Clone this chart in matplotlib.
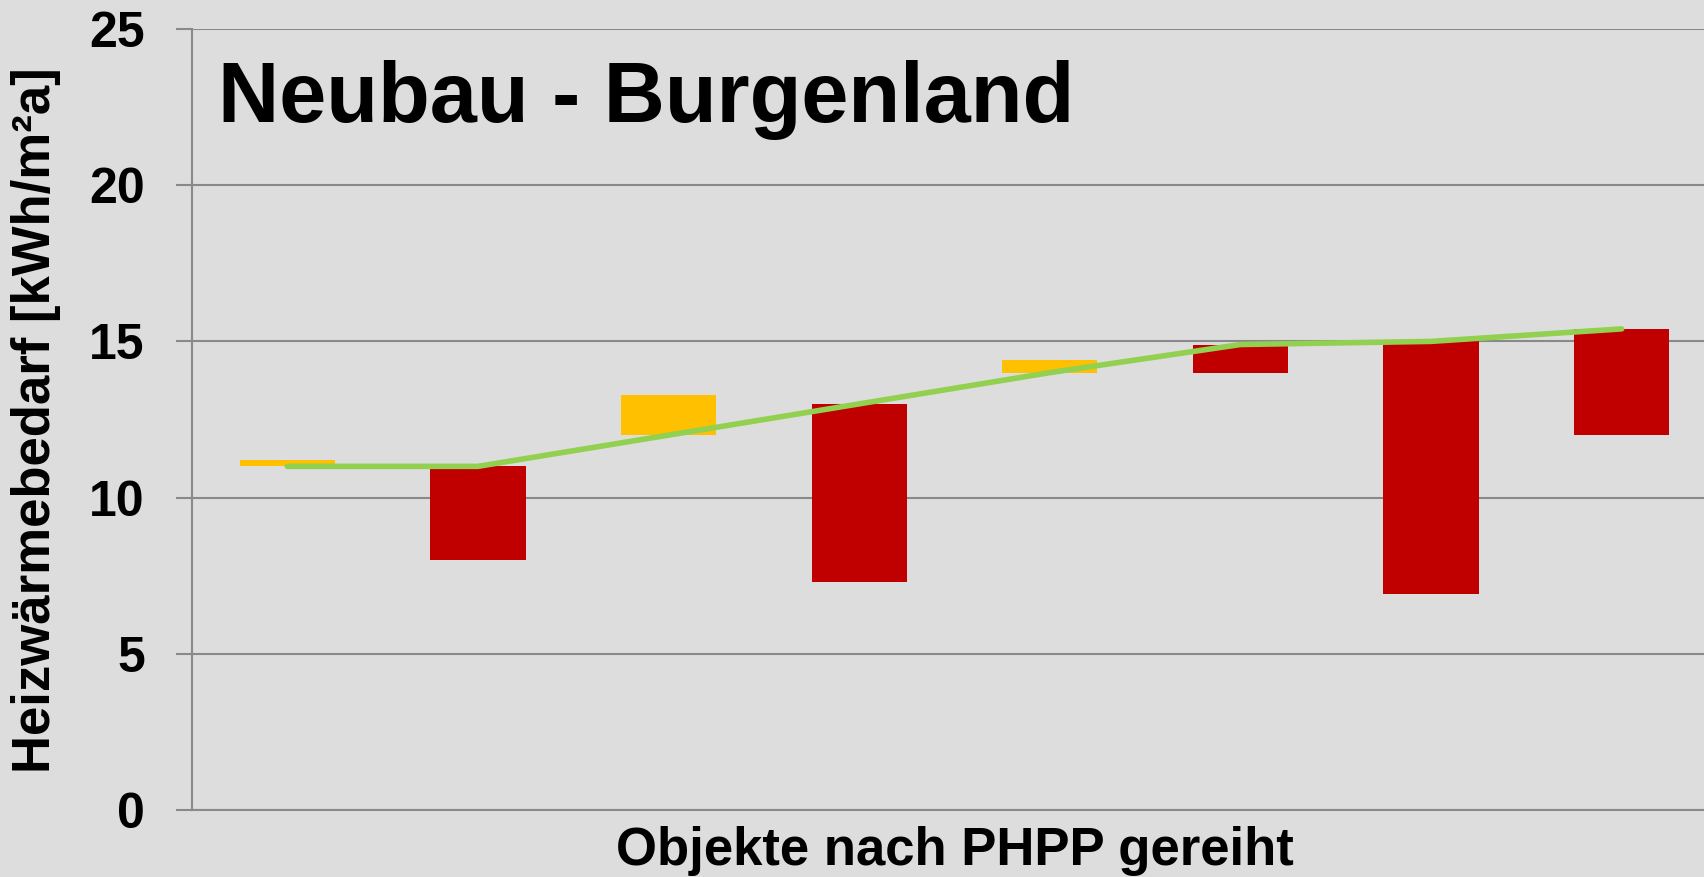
import matplotlib
matplotlib.use("Agg")
import matplotlib.pyplot as plt
import numpy as np

plt.rcParams['font.family'] = ['Liberation Sans', 'DejaVu Sans']

# Data (kWh/m²a), objects sorted by PHPP value
objects = ["1", "2", "3", "4", "5", "6", "7", "8"]
phpp = [11.0, 11.0, 12.0, 13.0, 14.0, 14.9, 15.0, 15.4]
measured = [11.2, 8.0, 13.3, 7.3, 14.4, 14.0, 6.9, 12.0]
yticks = [0, 5, 10, 15, 20, 25]

title = "Neubau - Burgenland"
xlabel = "Objekte nach PHPP gereiht"
ylabel = "Heizwärmebedarf [kWh/m²a]"

bg = "#DDDDDD"
grid_c = "#898989"
red = "#C00000"
yellow = "#FFC000"
green = "#92D050"

fig = plt.figure(figsize=(17.04, 8.77), dpi=100, facecolor=bg)
ax = fig.add_axes([192 / 1704, 67 / 877, (1717 - 192) / 1704, 781 / 877])
ax.set_facecolor(bg)

x = np.arange(len(objects))
phpp_a = np.array(phpp)
meas_a = np.array(measured)
bottoms = np.minimum(phpp_a, meas_a)
heights = np.abs(meas_a - phpp_a)
colors = [yellow if m > p else red for p, m in zip(phpp, measured)]
ax.bar(x, heights, bottom=bottoms, width=0.5, color=colors, zorder=2)
ax.plot(x, phpp_a, color=green, lw=4.0, solid_capstyle='round', zorder=3)

ax.set_xlim(-0.5, len(objects) - 0.5)
ax.set_ylim(0, 25)
ax.set_yticks(yticks)
ax.set_yticklabels([str(t) for t in yticks], fontsize=36, fontweight='bold')
ax.set_xticks([])
ax.grid(axis='y', color=grid_c, lw=1.5, zorder=1)
ax.tick_params(axis='y', length=11.5, width=1.5, color=grid_c, pad=22.5)
for s in ['top', 'right']:
    ax.spines[s].set_visible(False)
for s in ['left', 'bottom']:
    ax.spines[s].set_color(grid_c)
    ax.spines[s].set_linewidth(1.5)

fig.text(218 / 1704, (877 - 121.7) / 877, title, fontsize=61, fontweight='bold',
         ha='left', va='baseline')
fig.text(954.5 / 1704, (877 - 865) / 877, xlabel, fontsize=38, fontweight='bold',
         ha='center', va='baseline')
fig.text(36.4 / 1704, (877 - 420) / 877, ylabel, fontsize=38, fontweight='bold',
         rotation=90, ha='center', va='center')

fig.savefig("out.png", dpi=100, facecolor=bg)
